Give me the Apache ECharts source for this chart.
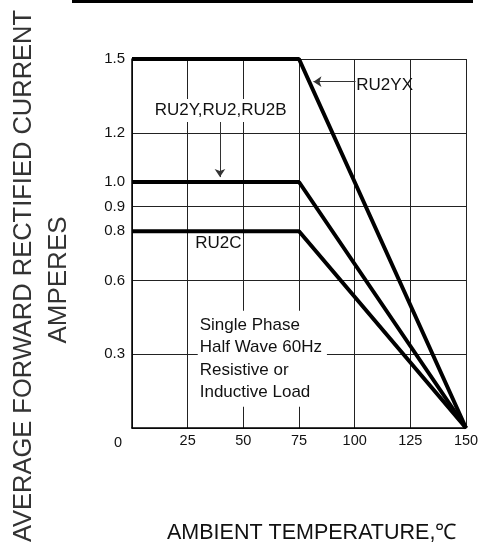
<!DOCTYPE html>
<html>
<head>
<meta charset="utf-8">
<script src="https://cdn.jsdelivr.net/npm/echarts@6/dist/echarts.min.js"></script>
<style>
html,body{margin:0;padding:0;background:#fff;}
#c{width:492px;height:549px;}
</style>
</head>
<body>
<div id="c"></div>
<script>
// Ambient temperature (°C) breakpoints
const temps = [0, 75, 150];
// Average forward rectified current (A)
const ru2yx = [1.5, 1.5, 0];
const ru2y = [1.0, 1.0, 0];
const ru2c = [0.8, 0.8, 0];
// Axis ticks / labels
const xTicks = [0, 25, 50, 75, 100, 125, 150];
const yLabelValues = [0.3, 0.6, 0.8, 0.9, 1.0, 1.2, 1.5];
const noteLines = ['Single Phase', 'Half Wave 60Hz', 'Resistive or', 'Inductive Load'];

const FONT = "'Liberation Sans', Arial, sans-serif";
const pair = (xs, ys) => xs.map((x, i) => [x, ys[i]]);

const chart = echarts.init(document.getElementById('c'), null, {renderer: 'canvas'});

const lineBase = {
  type: 'line', symbol: 'none', animation: false, silent: true,
  lineStyle: {color: '#000', width: 4}, z: 3
};
const noteLabel = (extra) => Object.assign({
  show: true, position: 'right', distance: 0, align: 'left', verticalAlign: 'middle',
  fontFamily: FONT, fontSize: 17, color: '#111'
}, extra);
const dot = {symbol: 'circle', symbolSize: 1, itemStyle: {color: 'rgba(0,0,0,0)'}};

chart.setOption({
  animation: false,
  grid: {left: 132, right: 26, top: 59, bottom: 121, containLabel: false},
  xAxis: {
    type: 'value', min: 0, max: 150, interval: 25,
    axisLine: {show: true, lineStyle: {color: '#000', width: 1.5}},
    axisTick: {show: false},
    splitLine: {show: true, lineStyle: {color: '#222', width: 1}},
    axisLabel: {
      show: true, margin: 5, fontFamily: FONT, fontSize: 14.5, color: '#111',
      customValues: xTicks,
      formatter: v => v === 0 ? '{o|0}' : String(v),
      rich: {o: {fontFamily: FONT, fontSize: 14.5, color: '#111', padding: [2, 28, 0, 0]}}
    }
  },
  yAxis: {
    type: 'value', min: 0, max: 1.5, interval: 0.3,
    axisLine: {show: true, lineStyle: {color: '#000', width: 1.5}},
    axisTick: {show: false},
    splitLine: {show: true, lineStyle: {color: '#222', width: 1}},
    axisLabel: {
      show: true, margin: 7, fontFamily: FONT, fontSize: 15, color: '#111',
      customValues: yLabelValues,
      formatter: v => v.toFixed(1)
    }
  },
  series: [
    Object.assign({}, lineBase, {
      name: 'RU2YX', data: pair(temps, ru2yx),
      markLine: {
        silent: true, animation: false, symbol: ['none', 'arrow'], symbolSize: 8,
        label: {show: false},
        lineStyle: {color: '#333', width: 1, type: 'solid'},
        data: [
          [{coord: [100.4, 1.408]}, {coord: [81.5, 1.408]}],
          [{coord: [39.5, 1.255]}, {coord: [39.5, 1.02]}]
        ]
      },
      markPoint: {
        silent: true, animation: false,
        data: [
          Object.assign({coord: [100.5, 1.395], label: noteLabel({formatter: 'RU2YX'})}, dot),
          Object.assign({coord: [9.5, 1.291], label: noteLabel({formatter: 'RU2Y,RU2,RU2B', backgroundColor: '#fff', padding: [3, 1, 3, 1]})}, dot),
          Object.assign({coord: [28.2, 0.752], label: noteLabel({formatter: 'RU2C'})}, dot),
          Object.assign({coord: [29.3, 0.281], label: noteLabel({
            formatter: noteLines.join('\n'), fontSize: 17, lineHeight: 22.5,
            backgroundColor: '#fff', padding: [3, 5, 3, 2]
          })}, dot)
        ]
      }
    }),
    Object.assign({}, lineBase, {name: 'RU2Y', data: pair(temps, ru2y)}),
    Object.assign({}, lineBase, {name: 'RU2C', data: pair(temps, ru2c)})
  ],
  graphic: [
    {type: 'rect', left: 72, top: 0, shape: {width: 401, height: 3}, style: {fill: '#000'}, silent: true},
    {type: 'text', x: 24, y: 276, rotation: Math.PI / 2, silent: true,
     style: {text: 'AVERAGE FORWARD RECTIFIED CURRENT', fontFamily: FONT, fontSize: 25.5, fill: '#333', align: 'center', verticalAlign: 'middle'}},
    {type: 'text', x: 59, y: 280, rotation: Math.PI / 2, silent: true,
     style: {text: 'AMPERES', fontFamily: FONT, fontSize: 26, fill: '#333', align: 'center', verticalAlign: 'middle'}},
    {type: 'text', x: 167, y: 533, silent: true,
     style: {text: 'AMBIENT TEMPERATURE,℃', fontFamily: FONT, fontSize: 21.5, fill: '#111', align: 'left', verticalAlign: 'middle'}}
  ]
});
</script>
</body>
</html>
